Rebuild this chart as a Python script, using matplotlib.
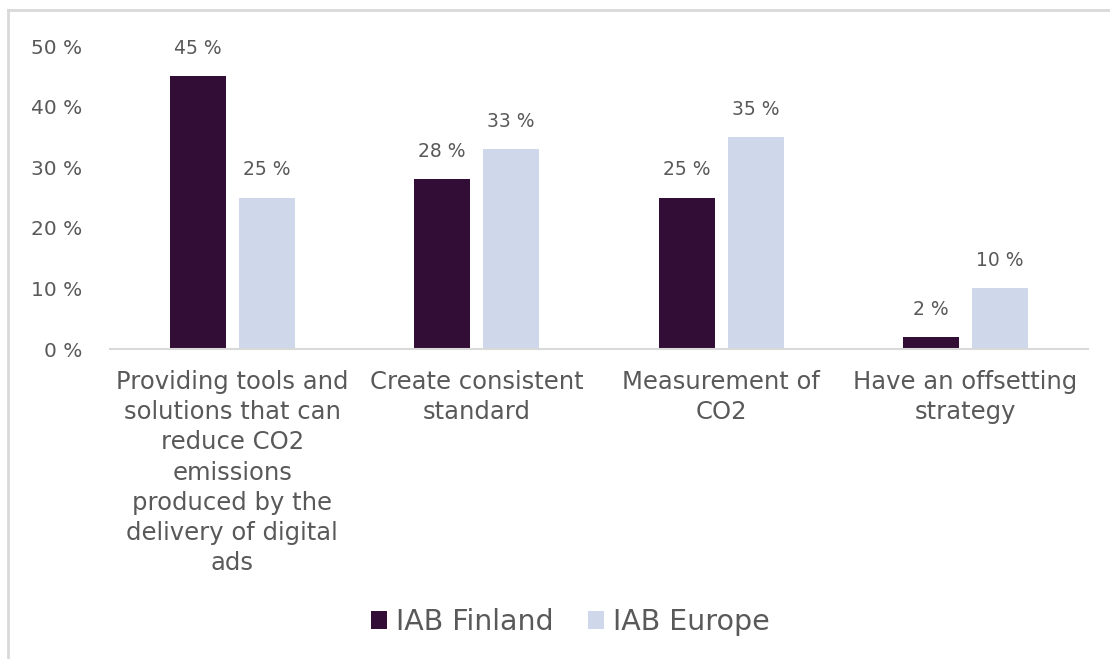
import numpy as np
import matplotlib.pyplot as plt
from matplotlib.lines import Line2D

categories = [
    "Providing tools and\nsolutions that can\nreduce CO2\nemissions\nproduced by the\ndelivery of digital\nads",
    "Create consistent\nstandard",
    "Measurement of\nCO2",
    "Have an offsetting\nstrategy",
]
finland = [45, 28, 25, 2]
europe = [25, 33, 35, 10]
series_names = ["IAB Finland", "IAB Europe"]

dark = "#320d36"
light = "#cfd8ea"
grey = "#595959"

plt.rcParams["font.family"] = ["DejaVu Sans"]

fig = plt.figure(figsize=(11.1, 6.59), dpi=100)
ax = fig.add_axes([0.099, 0.4704, 0.881, 0.4597])

x = np.arange(len(categories))
w = 0.229
off = 0.141
b1 = ax.bar(x - off, finland, w, color=dark, label=series_names[0])
b2 = ax.bar(x + off, europe, w, color=light, label=series_names[1])

for bars, vals in ((b1, finland), (b2, europe)):
    for rect, v in zip(bars, vals):
        ax.text(rect.get_x() + rect.get_width() / 2, v + 3.0, f"{v} %",
                ha="center", va="bottom", fontsize=13.5, color=grey)

ax.set_xlim(-0.5, len(categories) - 0.5)
ax.set_ylim(0, 50)
ax.set_yticks(range(0, 51, 10))
ax.set_yticklabels([f"{t} %" for t in range(0, 51, 10)])
ax.set_xticks(x)
ax.set_xticklabels(categories, linespacing=1.33)

ax.tick_params(axis="y", length=0, pad=20, labelsize=14.5, labelcolor=grey)
ax.tick_params(axis="x", length=0, pad=15, labelsize=17.5, labelcolor=grey)
for s in ("top", "right", "left"):
    ax.spines[s].set_visible(False)
ax.spines["bottom"].set_color("#d9d9d9")
ax.spines["bottom"].set_linewidth(1.5)

fig.legend(handles=[b1, b2], loc="center", bbox_to_anchor=(0.514, 0.056),
           ncol=2, frameon=False, fontsize=20.5, labelcolor=grey,
           handlelength=0.55, handleheight=0.55, handletextpad=0.34,
           columnspacing=1.2)

# thin frame edges along the top and left
fig.add_artist(Line2D([0.0072, 1.0], [0.985, 0.985], color="#d9d9d9", lw=2,
                      transform=fig.transFigure))
fig.add_artist(Line2D([0.0072, 0.0072], [0.0, 0.985], color="#d9d9d9", lw=2,
                      transform=fig.transFigure))

fig.savefig("out.png", dpi=100)
